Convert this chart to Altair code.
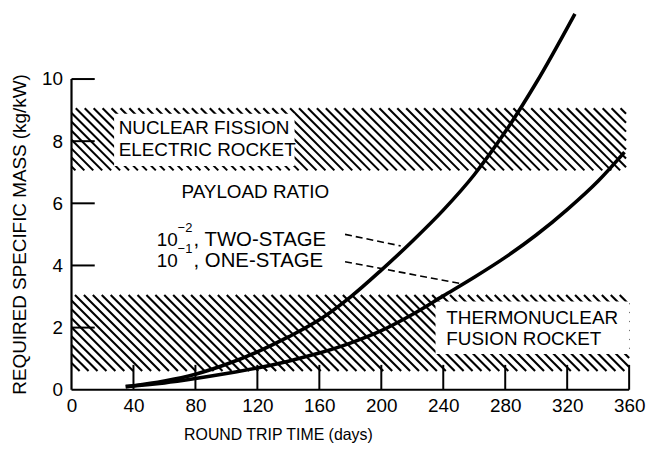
import altair as alt
import pandas as pd
import numpy as np

# ---------------- data ----------------
days_two = [35, 40, 60, 80, 100, 120, 140, 160, 180, 200, 220, 240, 260, 280, 300, 325]
mass_two = [0.1, 0.13, 0.28, 0.5, 0.82, 1.22, 1.7, 2.25, 2.98, 3.85, 4.78, 5.78, 6.92, 8.3, 9.88, 12.1]
days_one = [35, 40, 60, 80, 100, 120, 140, 160, 180, 200, 220, 240, 260, 280, 300, 320, 340, 357]
mass_one = [0.1, 0.12, 0.22, 0.36, 0.52, 0.7, 0.92, 1.18, 1.5, 1.9, 2.42, 3.02, 3.62, 4.26, 4.98, 5.8, 6.72, 7.65]

x_tick_values = [0, 40, 80, 120, 160, 200, 240, 280, 320, 360]
y_tick_values = [0, 2, 4, 6, 8, 10]

# hatched technology bands (days / kg per kW)
band_x0 = [0, 0]
band_x1 = [358, 360]
band_y0 = [7.06, 0.6]
band_y1 = [9.06, 3.05]
# white label boxes inside the bands
box_x0 = [27.5, 235]
box_x1 = [144, 360]
box_y0 = [7.2, 1.15]
box_y1 = [8.88, 2.84]

label_text = ["NUCLEAR FISSION", "ELECTRIC ROCKET", "PAYLOAD RATIO",
              "THERMONUCLEAR", "FUSION ROCKET", "10", "10"]
label_x = [30.5, 30.5, 71, 242, 242, 55.1, 55.1]
label_y = [8.42, 7.7, 6.36, 2.32, 1.63, 4.82, 4.15]

stage_text = [", TWO-STAGE", ", ONE-STAGE"]
stage_x = [78.8, 78.8]
stage_y = [4.82, 4.15]

exp_text = ["\u22122", "\u22121"]
exp_x = [68.5, 68.5]
exp_y = [5.2, 4.53]

leader_x0 = [176.6, 176.6]
leader_y0 = [5.0, 4.12]
leader_x1 = [212.5, 250.9]
leader_y1 = [4.63, 3.42]

# ---------------- layout ----------------
FONT = "Liberation Sans"
W, H = 562, 382
XMAX, YMAX = 360, 12.2
kx, ky = W / XMAX, H / YMAX

xs = alt.Scale(domain=[0, XMAX], nice=False, zero=False)
ys = alt.Scale(domain=[0, YMAX], nice=False, zero=False)

xaxis = alt.Axis(values=x_tick_values, domain=False, ticks=False, grid=False,
                 labelFont=FONT, labelFontSize=19, labelColor="black", labelPadding=7,
                 labelFlush=False,
                 title="ROUND TRIP TIME (days)", titleFont=FONT, titleFontSize=16,
                 titleFontWeight="normal", titleColor="black",
                 titleX=208, titleY=50, titleBaseline="alphabetic")
yaxis = alt.Axis(values=y_tick_values, domain=False, ticks=False, grid=False,
                 labelFont=FONT, labelFontSize=19, labelColor="black", labelPadding=9,
                 labelFlush=False,
                 title="REQUIRED SPECIFIC MASS (kg/kW)", titleFont=FONT, titleFontSize=19,
                 titleFontWeight="normal", titleColor="black",
                 titleX=-52, titleY=225, titleBaseline="middle", titleAngle=270)


def X(f):
    return alt.X(f, type="quantitative", scale=xs, axis=xaxis)


def Y(f):
    return alt.Y(f, type="quantitative", scale=ys, axis=yaxis)


# hatch segments ("\" direction, 9 px spacing) clipped to each band
hx, hy, hx2, hy2 = [], [], [], []
spacing = 9.0
for i in range(len(band_x0)):
    xa, xb = band_x0[i] * kx, band_x1[i] * kx
    ua, ub = band_y0[i] * ky, band_y1[i] * ky
    k0 = int(np.floor((xa + ua) / spacing))
    k1 = int(np.ceil((xb + ub) / spacing))
    for k in range(k0, k1 + 1):
        c = k * spacing
        lo = max(ua, c - xb)
        hi = min(ub, c - xa)
        if hi > lo + 0.5:
            hx.append((c - lo) / kx)
            hy.append(lo / ky)
            hx2.append((c - hi) / kx)
            hy2.append(hi / ky)
hatch_df = pd.DataFrame({"x": hx, "y": hy, "x2": hx2, "y2": hy2})

hatch = alt.Chart(hatch_df).mark_rule(color="black", strokeWidth=2.1).encode(
    x=X("x"), y=Y("y"), x2="x2", y2="y2")

box_df = pd.DataFrame({"x": box_x0, "x2": box_x1, "y": box_y0, "y2": box_y1})
boxes = alt.Chart(box_df).mark_rect(color="white").encode(
    x=X("x"), x2="x2", y=Y("y"), y2="y2")

# axis lines and inward ticks
axis_df = pd.DataFrame({"x": [0, 0], "y": [0, 0], "x2": [0, XMAX], "y2": [10, 0]})
axis_lines = alt.Chart(axis_df).mark_rule(color="black", strokeWidth=2.2).encode(
    x=X("x"), y=Y("y"), x2="x2", y2="y2")

xt = [v for v in x_tick_values if v > 0]
yt = [v for v in y_tick_values if v > 0]
tick_df = pd.DataFrame({
    "x": xt + [0] * len(yt),
    "x2": xt + [15] * len(yt),
    "y": [0] * len(xt) + yt,
    "y2": [0.8] * len(xt) + yt,
})
ticks = alt.Chart(tick_df).mark_rule(color="black", strokeWidth=2).encode(
    x=X("x"), y=Y("y"), x2="x2", y2="y2")

curve_df = pd.DataFrame({
    "x": days_two + days_one,
    "y": mass_two + mass_one,
    "series": ["two"] * len(days_two) + ["one"] * len(days_one),
})
curves = alt.Chart(curve_df).mark_line(color="black", strokeWidth=3.6,
                                       interpolate="monotone").encode(
    x=X("x"), y=Y("y"), detail="series")

leader_df = pd.DataFrame({"x": leader_x0, "y": leader_y0, "x2": leader_x1, "y2": leader_y1})
leaders = alt.Chart(leader_df).mark_rule(color="black", strokeWidth=1.6,
                                         strokeDash=[7, 4]).encode(
    x=X("x"), y=Y("y"), x2="x2", y2="y2")

text_df = pd.DataFrame({"x": label_x, "y": label_y, "t": label_text})
texts = alt.Chart(text_df).mark_text(font=FONT, fontSize=19, color="black",
                                     align="left", baseline="middle").encode(
    x=X("x"), y=Y("y"), text="t")

stage_df = pd.DataFrame({"x": stage_x, "y": stage_y, "t": stage_text})
stage_texts = alt.Chart(stage_df).mark_text(font=FONT, fontSize=20.5, color="black",
                                            align="left", baseline="middle").encode(
    x=X("x"), y=Y("y"), text="t")

exp_df = pd.DataFrame({"x": exp_x, "y": exp_y, "t": exp_text})
exp_texts = alt.Chart(exp_df).mark_text(font=FONT, fontSize=13, color="black",
                                        align="left", baseline="middle").encode(
    x=X("x"), y=Y("y"), text="t")

chart = alt.layer(hatch, boxes, axis_lines, ticks, curves, leaders,
                  texts, stage_texts, exp_texts).properties(
    width=W, height=H,
    autosize=alt.AutoSizeParams(type="none"),
    padding={"left": 64, "top": 1, "right": 18, "bottom": 56},
).configure_view(stroke=None)

chart.save("out.html", embed_options={"renderer": "svg", "actions": False})
